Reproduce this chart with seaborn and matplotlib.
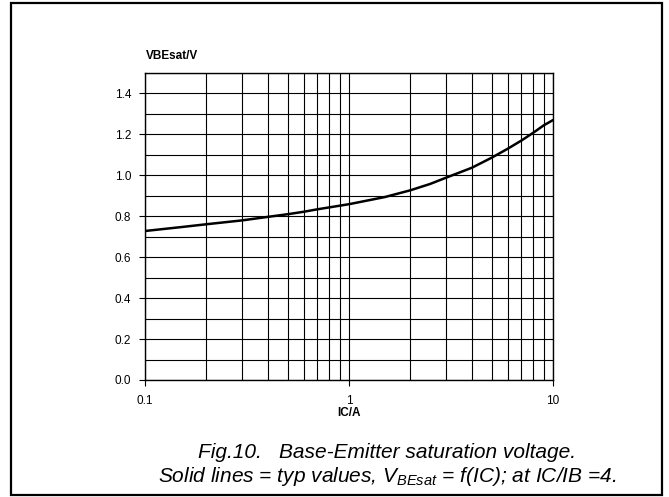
import numpy as np
import matplotlib
matplotlib.use("Agg")
import matplotlib.pyplot as plt
import matplotlib.ticker as mticker
from matplotlib.patches import Rectangle
import seaborn as sns
import pandas as pd

# values (IC in A, VBEsat in V)
IC = [0.1, 0.15, 0.2, 0.3, 0.4, 0.5, 0.6, 0.7, 1.0, 1.5, 2.0, 2.5, 3.0, 4.0, 5.0,
      6.0, 7.0, 8.0, 9.0, 10.0]
VBESAT = [0.728, 0.747, 0.761, 0.780, 0.797, 0.810, 0.822, 0.834, 0.859, 0.894,
          0.927, 0.958, 0.989, 1.037, 1.086, 1.130, 1.170, 1.208, 1.244, 1.270]
Y_TICKS = [0.0, 0.2, 0.4, 0.6, 0.8, 1.0, 1.2, 1.4]
X_TICKS = [0.1, 1, 10]
X_TICK_LABELS = ["0.1", "1", "10"]

sns.set_style("white")
plt.rcParams["font.family"] = ["Liberation Sans", "DejaVu Sans"]
plt.rcParams["text.color"] = "black"
plt.rcParams["mathtext.fontset"] = "custom"
plt.rcParams["mathtext.it"] = "Liberation Sans:italic"
plt.rcParams["mathtext.rm"] = "Liberation Sans"

df = pd.DataFrame({"IC": IC, "VBEsat": VBESAT})

fig = plt.figure(figsize=(6.69, 4.97), dpi=100)
ax = fig.add_axes([145 / 669, 1 - 380 / 497, 408 / 669, 307 / 497])

sns.lineplot(data=df, x="IC", y="VBEsat", ax=ax, color="black", linewidth=1.8,
             estimator=None, zorder=5)

ax.set_xscale("log")
ax.set_xlim(0.1, 10)
ax.set_ylim(0, 1.5)

ax.set_xticks(X_TICKS)
ax.set_xticklabels(X_TICK_LABELS)
ax.xaxis.set_minor_locator(mticker.LogLocator(base=10, subs=np.arange(2, 10)))
ax.xaxis.set_minor_formatter(mticker.NullFormatter())
ax.set_yticks(Y_TICKS)
ax.set_yticklabels([f"{v:.1f}" for v in Y_TICKS])
ax.yaxis.set_minor_locator(mticker.MultipleLocator(0.1))

ax.grid(True, which="both", color="black", linewidth=0.8)
ax.tick_params(axis="both", which="major", direction="out", length=4, width=0.8,
               labelsize=8.5, colors="black", labelcolor="black", pad=6)
ax.tick_params(axis="x", which="minor", length=0)
ax.tick_params(axis="y", which="minor", length=0)
ax.tick_params(axis="x", which="major", bottom=True, pad=7)
ax.tick_params(axis="y", which="major", left=True)
for s in ax.spines.values():
    s.set_color("black")
    s.set_linewidth(1.0)

ax.set_xlabel("IC/A", fontsize=8.5, fontweight="bold", labelpad=0, color="black")
ax.set_ylabel("")
fig.text(146 / 669, 1 - 56 / 497, "VBEsat/V", fontsize=8.5, fontweight="bold",
         ha="left", va="center")

fig.text(387 / 669, 1 - 452 / 497, "Fig.10.   Base-Emitter saturation voltage.",
         fontsize=15, style="italic", ha="center", va="center")
fig.text(387 / 669, 1 - 476 / 497,
         r"Solid lines = typ values, $\mathit{V}_{\mathit{BEsat}}$ = f(IC); at IC/IB =4.",
         fontsize=15, style="italic", ha="center", va="center")

fig.patches.append(Rectangle((11 / 669, 1 - 495 / 497), 651 / 669, 492 / 497,
                             transform=fig.transFigure, fill=False,
                             edgecolor="black", linewidth=1.6))

fig.savefig("out.png", dpi=100)
